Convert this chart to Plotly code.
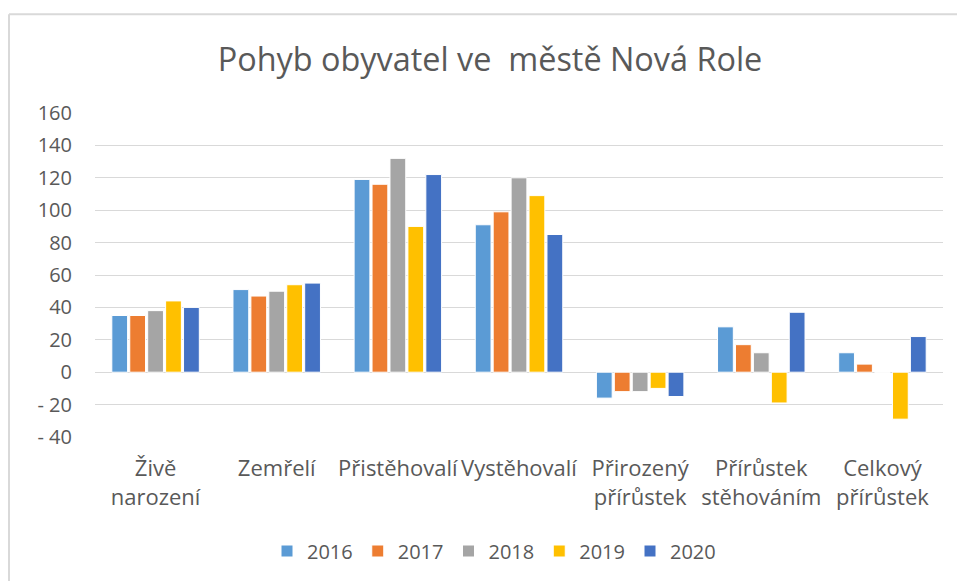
import plotly.graph_objects as go

categories = ["Živě<br>narození", "Zemřelí", "Přistěhovalí", "Vystěhovalí",
              "Přirozený<br>přírůstek", "Přírůstek<br>stěhováním", "Celkový<br>přírůstek"]
years = ["2016", "2017", "2018", "2019", "2020"]
v2016 = [35, 51, 119, 91, -16, 28, 12]
v2017 = [35, 47, 116, 99, -12, 17, 5]
v2018 = [38, 50, 132, 120, -12, 12, 0]
v2019 = [44, 54, 90, 109, -10, -19, -29]
v2020 = [40, 55, 122, 85, -15, 37, 22]
series = [v2016, v2017, v2018, v2019, v2020]
colors = ["#5B9BD5", "#ED7D31", "#A5A5A5", "#FFC000", "#4472C4"]
tick_vals = [-40, -20, 0, 20, 40, 60, 80, 100, 120, 140, 160]
tick_text = ["- 40", "- 20", "0", "20", "40", "60", "80", "100", "120", "140", "160"]

FONT = "Open Sans"
GREY = "#595959"

fig = go.Figure()
for name, vals, col in zip(years, series, colors):
    fig.add_trace(go.Bar(x=categories, y=vals, name=name,
                         marker=dict(color=col, line=dict(color="white", width=1))))

W, H = 957, 581
L, R, T, B = 95, 943, 113, 438
pw, ph = R - L, B - T

def px(x):
    return (x - L) / pw

def py(y):
    return (B - y) / ph

fig.update_layout(
    width=W, height=H,
    margin=dict(l=L, r=W - R, t=T, b=H - B),
    paper_bgcolor="white", plot_bgcolor="white",
    font=dict(family=FONT, color=GREY, size=20),
    title=dict(text="Pohyb obyvatel ve&nbsp; městě Nová Role", x=490 / W, xanchor="center",
               y=1 - 60 / H, yanchor="middle",
               font=dict(family=FONT, size=32.4, color=GREY)),
    barmode="group", bargap=0.26, bargroupgap=0.12,
    showlegend=True,
    legend=dict(orientation="h", x=px(494), xanchor="center", y=py(551), yanchor="middle",
                font=dict(family=FONT, size=20, color=GREY), itemwidth=30,
                traceorder="normal"),
    xaxis=dict(showgrid=False, showline=False, ticks="", tickfont=dict(size=22, color=GREY),
               tickangle=0, ticklabelstandoff=16),
    yaxis=dict(range=[-40, 160], tickvals=tick_vals, ticktext=tick_text,
               showgrid=True, gridcolor="#D9D9D9", gridwidth=1,
               zeroline=True, zerolinecolor="#D9D9D9", zerolinewidth=1,
               showline=False, ticks="", ticklabelstandoff=22,
               tickfont=dict(size=20, color=GREY)),
    shapes=[
        dict(type="line", xref="paper", yref="paper", x0=px(9), x1=px(9), y0=py(600), y1=py(14),
             line=dict(color="#D9D9D9", width=2)),
        dict(type="line", xref="paper", yref="paper", x0=px(9), x1=px(1000), y0=py(14), y1=py(14),
             line=dict(color="#D9D9D9", width=2)),
    ],
)

fig.write_html("out.html", config={"displayModeBar": False},
               post_script="document.body.style.margin='0';document.body.style.overflow='hidden';")
